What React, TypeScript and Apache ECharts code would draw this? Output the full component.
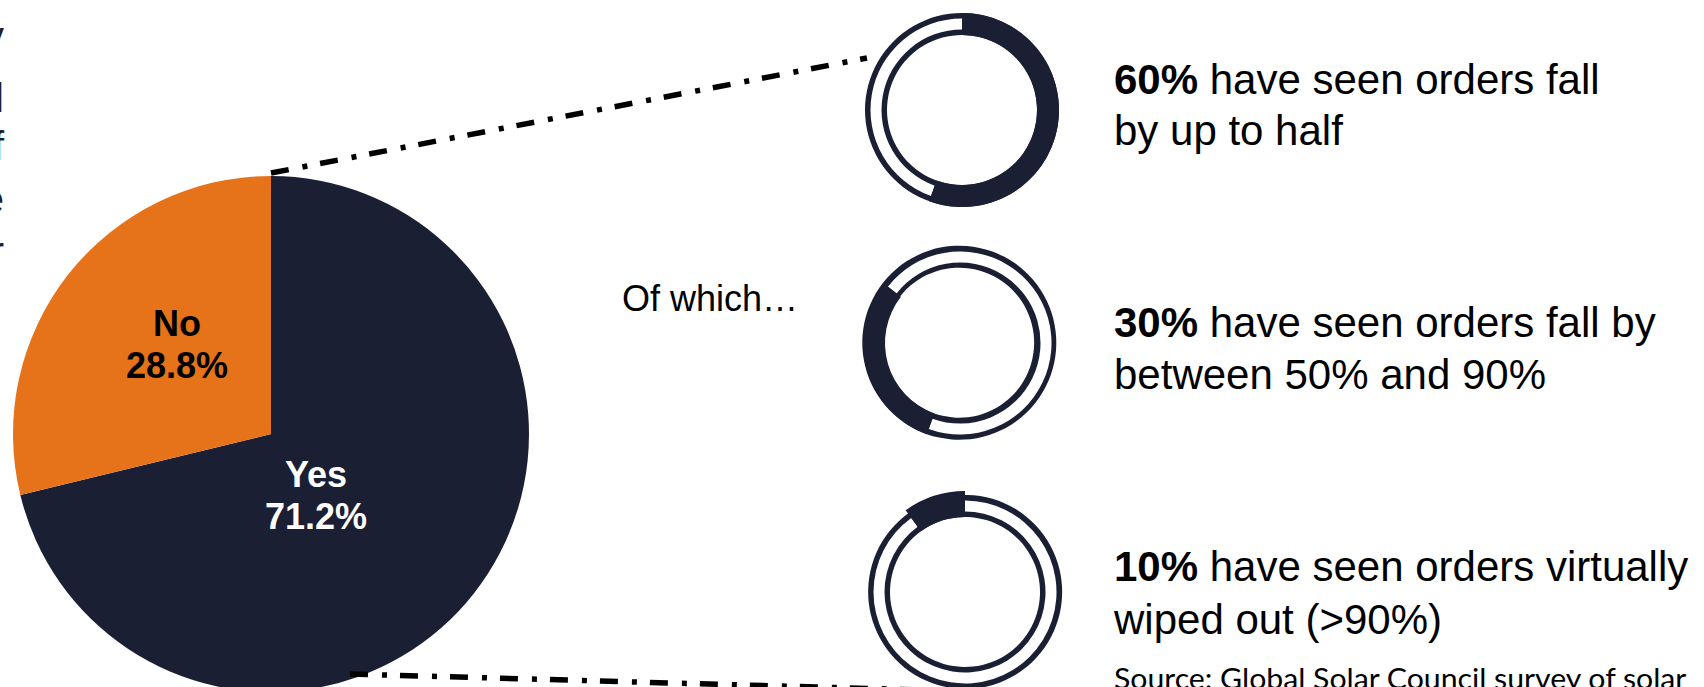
import React, { useEffect, useRef } from 'react';
import * as echarts from 'echarts';

// ---- data ----
const pieCategories = ['Yes', 'No'];
const pieValues = [71.2, 28.8];
// percentages printed next to each ring
const ringPercentLabels = [60, 30, 10];
// share of each ring that is drawn filled
const ringArcShares = [55.5, 30, 10];
const ringLine1 = ['have seen orders fall', 'have seen orders fall by', 'have seen orders virtually'];
const ringLine2 = ['by up to half', 'between 50% and 90%', 'wiped out (>90%)'];
const introText = 'Of which…';
const sourceText = 'Source: Global Solar Council survey of solar';
const leftFragments = ['y', 'l', 'f', 'e', 'r'];

// ---- styles / layout ----
const NAVY = '#1b1f33';
const ORANGE = '#e67219';
const SANS = '"Liberation Sans", Arial, sans-serif';
const PIE_CENTER = [271, 434];
const PIE_R = 258;
const PIE_LABEL_POS = [[316, 495], [177, 344]];
const RING_CENTERS = [[962, 110], [960, 343], [965, 592]];
const RING_START = [90, -110, -234];
const RING_FILL_OUTER = [97, 97, 101];
const TEXT_X = 1114;
const TEXT_BASELINES = [[94, 145], [337, 389], [581, 634]];
const FRAG_BASELINES = [50, 112, 160, 213, 265];
const MAIN_FS = 42;

function App() {
  const ref = useRef<HTMLDivElement>(null);
  useEffect(() => {
    document.body.style.margin = '0';
    const chart = echarts.init(ref.current!, null, { renderer: 'svg' });
    const series: any[] = [];
    series.push({
      type: 'pie',
      center: PIE_CENTER,
      radius: [0, PIE_R],
      startAngle: 90,
      clockwise: true,
      silent: true,
      z: 2,
      emphasis: { disabled: true },
      itemStyle: { borderWidth: 0 },
      data: pieCategories.map((c, i) => ({
        name: c,
        value: pieValues[i],
        itemStyle: { color: i === 0 ? NAVY : ORANGE },
        label: { color: i === 0 ? '#ffffff' : '#000000' },
      })),
      label: {
        show: true,
        position: 'inside',
        formatter: (p: any) => `${p.name}\n${p.value}%`,
        fontFamily: SANS,
        fontWeight: 'bold',
        fontSize: 36,
        lineHeight: 42,
        align: 'center',
      },
      labelLine: { show: false },
      labelLayout: (p: any) => {
        const pos = PIE_LABEL_POS[p.dataIndex];
        return { x: pos[0], y: pos[1], align: 'center', verticalAlign: 'middle' };
      },
    });
    ringArcShares.forEach((v, i) => {
      const common = {
        type: 'pie',
        center: RING_CENTERS[i],
        startAngle: RING_START[i],
        clockwise: true,
        silent: true,
        z: 3,
        emphasis: { disabled: true },
        label: { show: false },
        labelLine: { show: false },
      };
      series.push({
        ...common,
        radius: [75, 97],
        itemStyle: { borderWidth: 0 },
        data: [{ value: 100, itemStyle: { color: NAVY } }],
      });
      series.push({
        ...common,
        radius: [80.5, 91.5],
        itemStyle: { borderWidth: 0 },
        data: [
          { value: v, itemStyle: { color: 'rgba(0,0,0,0)' } },
          { value: 100 - v, itemStyle: { color: '#ffffff' } },
        ],
      });
      series.push({
        ...common,
        radius: [75, RING_FILL_OUTER[i]],
        itemStyle: { borderWidth: 0 },
        data: [
          { value: v, itemStyle: { color: NAVY } },
          { value: 100 - v, itemStyle: { color: 'rgba(0,0,0,0)' } },
        ],
      });
    });

    const graphics: any[] = [];
    const dash = { stroke: '#000', lineWidth: 5.5, lineDash: [18, 14, 5, 13] };
    graphics.push({ type: 'line', z: 10, shape: { x1: 271, y1: 173, x2: 867, y2: 58 }, style: dash });
    graphics.push({ type: 'line', z: 10, shape: { x1: 350, y1: 674, x2: 940, y2: 690.5 }, style: dash });
    ringPercentLabels.forEach((v, i) => {
      const [b1, b2] = TEXT_BASELINES[i];
      graphics.push({
        type: 'text', z: 10, x: TEXT_X, y: b1 - 0.3465 * MAIN_FS,
        style: {
          text: `{b|${v}%} ${ringLine1[i]}`,
          fill: '#000', fontFamily: SANS, fontSize: MAIN_FS, verticalAlign: 'middle', align: 'left',
          rich: { b: { fontWeight: 'bold', fontFamily: SANS, fontSize: MAIN_FS, fill: '#000' } },
        },
      });
      graphics.push({
        type: 'text', z: 10, x: TEXT_X, y: b2 - 0.3465 * MAIN_FS,
        style: { text: ringLine2[i], fill: '#000', fontFamily: SANS, fontSize: MAIN_FS, verticalAlign: 'middle', align: 'left' },
      });
    });
    graphics.push({
      type: 'text', z: 10, x: 622, y: 311 - 0.3465 * 36,
      style: { text: introText, fill: '#000', fontFamily: SANS, fontSize: 36, verticalAlign: 'middle', align: 'left' },
    });
    graphics.push({
      type: 'text', z: 10, x: TEXT_X, y: 678, scaleX: 1.08,
      style: { text: sourceText, fill: '#000', fontFamily: 'Lato, "Open Sans", sans-serif', fontSize: 28, verticalAlign: 'middle', align: 'left' },
    });
    leftFragments.forEach((t, i) => {
      graphics.push({
        type: 'text', z: 10, x: 4, y: FRAG_BASELINES[i] - 0.3465 * 40,
        style: { text: t, fill: NAVY, fontFamily: SANS, fontSize: 40, verticalAlign: 'middle', align: 'right' },
      });
    });

    chart.setOption({
      animation: false,
      backgroundColor: '#ffffff',
      series,
      graphic: { elements: graphics },
    });
    return () => chart.dispose();
  }, []);
  return <div ref={ref} style={{ width: 1704, height: 687 }} />;
}

export default App;
